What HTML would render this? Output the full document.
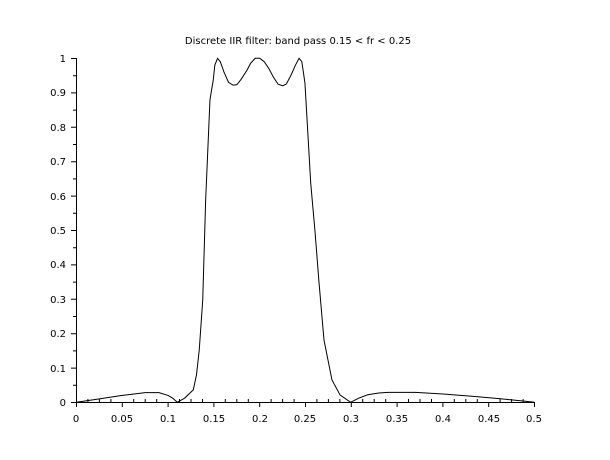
<!DOCTYPE html>
<html><head><style>body{margin:0;background:#fff}svg{display:block}text{font-family:"DejaVu Sans","Liberation Sans",sans-serif;font-size:10px;fill:#000}</style></head>
<body>
<svg width="610" height="460" viewBox="0 0 610 460" xmlns="http://www.w3.org/2000/svg">
<text x="298" y="44" text-anchor="middle" font-size="8.8">Discrete IIR filter: band pass  0.15 &lt; fr &lt; 0.25</text>
<g stroke="#000" stroke-width="1" fill="none">
<line x1="76" y1="402.5" x2="534" y2="402.5"/>
<line x1="76.5" y1="58" x2="76.5" y2="402"/>
<g>
<path d="M76.5 402v5M122.3 402v5M168.1 402v5M213.9 402v5M259.7 402v5M305.5 402v5M351.3 402v5M397.1 402v5M442.9 402v5M488.7 402v5M534.5 402v5"/>
<path d="M87.9 402v-3M99.4 402v-3M110.9 402v-3M133.7 402v-3M145.2 402v-3M156.7 402v-3M179.5 402v-3M191 402v-3M202.5 402v-3M225.3 402v-3M236.8 402v-3M248.3 402v-3M271.1 402v-3M282.6 402v-3M294.1 402v-3M316.9 402v-3M328.4 402v-3M339.9 402v-3M362.7 402v-3M374.2 402v-3M385.7 402v-3M408.5 402v-3M420 402v-3M431.5 402v-3M454.3 402v-3M465.8 402v-3M477.3 402v-3M500.1 402v-3M511.6 402v-3M523.1 402v-3"/>
</g>
<path d="M76 402.5h-5M76 368.1h-5M76 333.7h-5M76 299.3h-5M76 264.9h-5M76 230.5h-5M76 196.1h-5M76 161.7h-5M76 127.3h-5M76 92.9h-5M76 58.5h-5"/>
<path d="M76 385.3h-3M76 350.9h-3M76 316.5h-3M76 282.1h-3M76 247.7h-3M76 213.3h-3M76 178.9h-3M76 144.5h-3M76 110.1h-3M76 75.7h-3"/>
</g>
<g font-size="10">
<text x="76" y="422" text-anchor="middle">0</text>
<text x="122" y="422" text-anchor="middle">0.05</text>
<text x="168" y="422" text-anchor="middle">0.1</text>
<text x="214" y="422" text-anchor="middle">0.15</text>
<text x="260" y="422" text-anchor="middle">0.2</text>
<text x="305" y="422" text-anchor="middle">0.25</text>
<text x="351" y="422" text-anchor="middle">0.3</text>
<text x="397" y="422" text-anchor="middle">0.35</text>
<text x="443" y="422" text-anchor="middle">0.4</text>
<text x="489" y="422" text-anchor="middle">0.45</text>
<text x="534" y="422" text-anchor="middle">0.5</text>
</g>
<g text-anchor="end">
<text x="66" y="406">0</text>
<text x="66" y="372">0.1</text>
<text x="66" y="337">0.2</text>
<text x="66" y="303">0.3</text>
<text x="66" y="268">0.4</text>
<text x="66" y="234">0.5</text>
<text x="66" y="200">0.6</text>
<text x="66" y="165">0.7</text>
<text x="66" y="131">0.8</text>
<text x="66" y="96">0.9</text>
<text x="66" y="62">1</text>
</g>
<g transform="translate(76.5,402.3) scale(916,-344)">
<polyline fill="none" stroke="#000" stroke-width="1" vector-effect="non-scaling-stroke" points="0,0 0.025,0.01 0.05,0.02 0.075,0.028 0.09,0.028 0.1,0.02 0.105,0.012 0.110,0 0.118,0.012 0.1275,0.036 0.131,0.08 0.134,0.152 0.1378,0.297 0.141,0.588 0.1457,0.879 0.1493,0.937 0.151,0.98 0.154,1.0 0.157,0.99 0.161,0.96 0.166,0.93 0.171,0.922 0.175,0.923 0.18,0.94 0.186,0.965 0.19,0.985 0.195,1.0 0.2,1.0 0.205,0.99 0.21,0.97 0.215,0.945 0.22,0.925 0.225,0.92 0.229,0.925 0.234,0.95 0.239,0.98 0.243,1.0 0.246,0.99 0.2494,0.928 0.2557,0.637 0.2604,0.496 0.2647,0.35 0.2702,0.181 0.2789,0.065 0.2878,0.021 0.2993,0 0.308,0.012 0.318,0.022 0.33,0.027 0.34,0.029 0.37,0.029 0.4,0.024 0.43,0.018 0.46,0.011 0.49,0.003 0.5,0"/>
</g>
</svg>
</body></html>
